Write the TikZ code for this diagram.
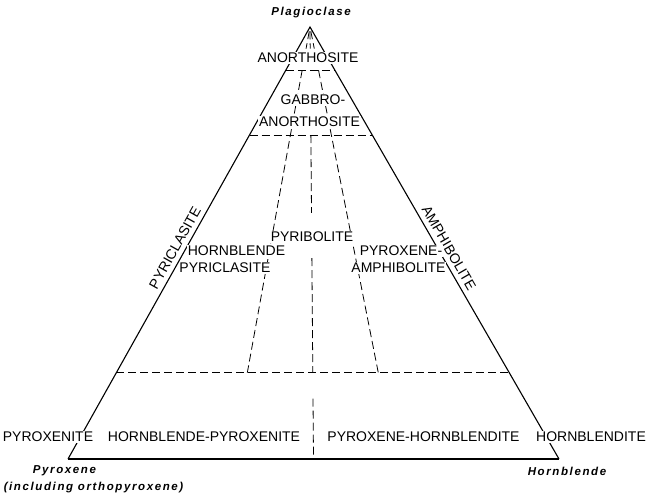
\documentclass[tikz,border=0pt]{standalone}
\usepackage{fontspec}
\setmainfont{Liberation Sans}
\newfontfamily\mineralfont{Liberation Sans}[LetterSpace=14]
\usetikzlibrary{calc}
\tikzset{
  rock/.style={fill=white, inner sep=0.8pt, font=\fontsize{14}{16}\selectfont},
  edgename/.style={inner sep=0pt, font=\fontsize{14}{16}\selectfont},
  mineral/.style={inner sep=0pt, font=\mineralfont\bfseries\itshape\fontsize{11.5}{14}\selectfont},
  divide/.style={dash pattern=on 8pt off 4pt, line width=0.8pt}
}
\begin{document}
\begin{tikzpicture}[x=1pt,y=-1pt]
  \useasboundingbox (0,0) rectangle (650,496);
  \coordinate (plag) at (310,27);
  \coordinate (px) at (68,459);
  \coordinate (hbl) at (559,459);
  % feet of the three rays from the plagioclase corner
  \coordinate (b1) at ($(px)!1/3!(hbl)$);
  \coordinate (b2) at ($(px)!1/2!(hbl)$);
  \coordinate (b3) at ($(px)!2/3!(hbl)$);
  % ends of the horizontal divides
  \foreach \t/\n in {0.9/a, 0.75/b, 0.2/c} {
    \coordinate (l\n) at ($(px)!\t!(plag)$);
    \coordinate (r\n) at ($(hbl)!\t!(plag)$);
  }
  \begin{scope}[divide]
    \draw (la) -- (ra);
    \draw (lb) -- (rb);
    \draw (lc) -- (rc);
    \foreach \b in {b1,b2,b3}
      \draw ($(plag)!0.01!(\b)$) -- ($(plag)!0.05!(\b)$);
    \foreach \b in {b1,b3}
      \draw ($(plag)!0.1!(\b)$) -- ($(plag)!0.8!(\b)$);
    \draw ($(plag)!0.25!(b2)$) -- ($(plag)!0.43!(b2)$);
    \draw ($(plag)!0.535!(b2)$) -- ($(plag)!0.8!(b2)$);
    \draw ($(plag)!0.86!(b2)$) -- ($(plag)!0.99!(b2)$);
  \end{scope}
  \draw[line width=1.1pt] (px) -- (plag) -- (hbl);
  \draw[line width=1.6pt] (px) -- (hbl);
  % names along the two sides
  \node[edgename, rotate=60.7] (pyr) at (175,248) {PYRICLASITE};
  \node[edgename, rotate=-60] (amp) at (449,248) {AMPHIBOLITE};
  % fields
  \node[rock] (ano) at (308,58) {ANORTHOSITE};
  \node[rock] (gab) at (313,100) {GABBRO-};
  \node[rock] (gabano) at (309.5,122) {ANORTHOSITE};
  \node[rock] (pyb) at (312,237) {PYRIBOLITE};
  \node[rock] (hb) at (236.5,251) {HORNBLENDE};
  \node[rock] (hbpyr) at (225,268) {PYRICLASITE};
  \node[rock] (px-) at (401,251) {PYROXENE-};
  \node[rock] (pxamp) at (398.5,268) {AMPHIBOLITE};
  \node[rock] (pxite) at (48,437) {PYROXENITE};
  \node[rock] (hbpx) at (204,437) {HORNBLENDE-PYROXENITE};
  \node[rock] (pxhb) at (423.5,437) {PYROXENE-HORNBLENDITE};
  \node[rock] (hbite) at (591,437) {HORNBLENDITE};
  % corners
  \node[mineral] (plagname) at (311,13) {Plagioclase};
  \node[mineral] (pxname) at (64.5,471) {Pyroxene};
  \node[mineral] (pxnote) at (93.5,488) {(including orthopyroxene)};
  \node[mineral] (hblname) at (567,471) {Hornblende};
\end{tikzpicture}
\end{document}
